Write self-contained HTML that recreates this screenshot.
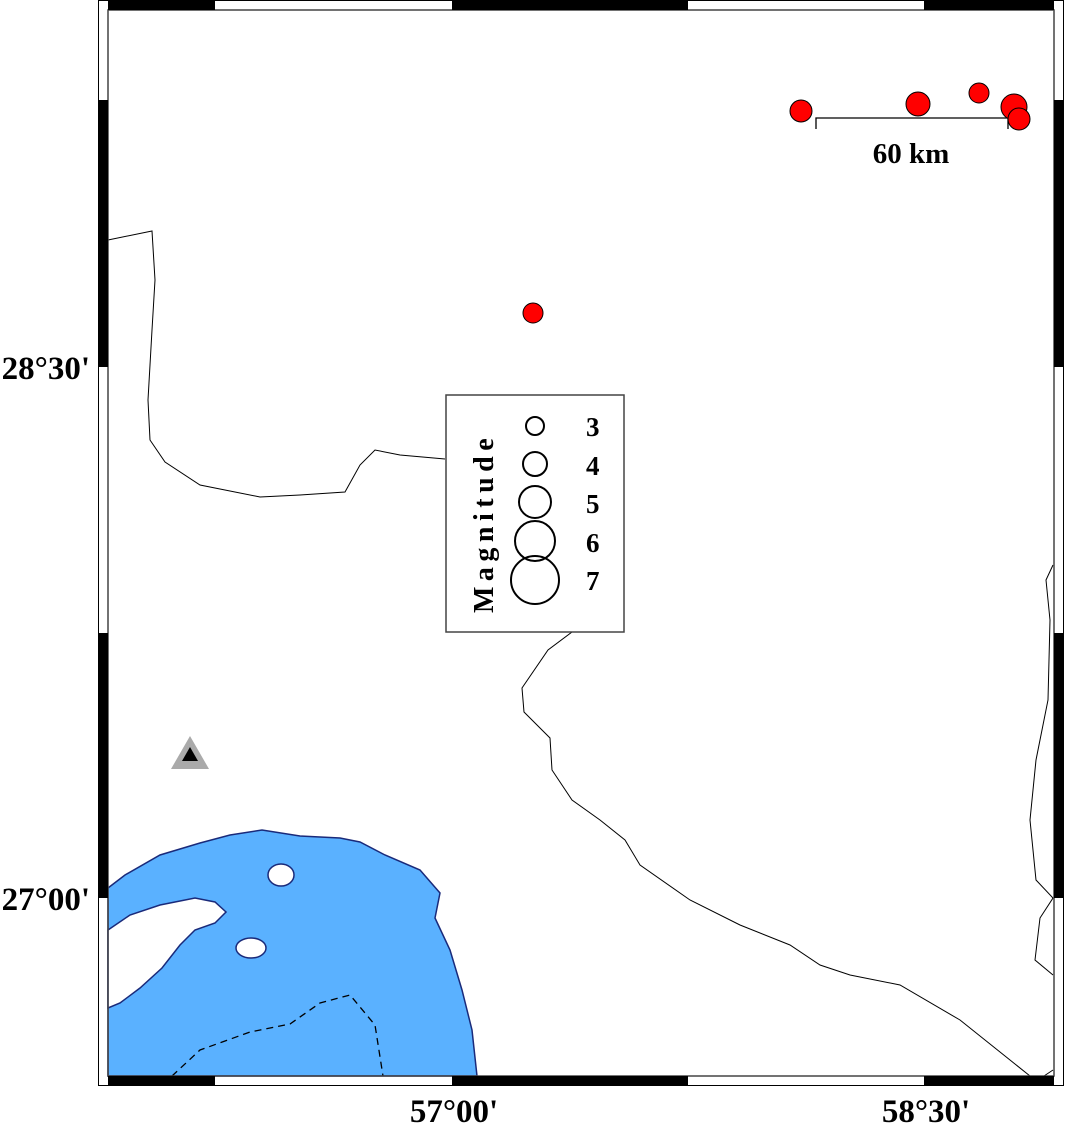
<!DOCTYPE html>
<html><head><style>html,body{margin:0;padding:0;background:#fff}svg{display:block}</style></head><body>
<svg width="1066" height="1124" viewBox="0 0 1066 1124" xmlns="http://www.w3.org/2000/svg" font-family="Liberation Serif, serif">
<rect width="1066" height="1124" fill="#fff"/>
<path d="M108,888 L125,875 L160,855 L200,843 L230,835 L262,830 L300,836 L340,838 L360,842 L385,855 L420,870 L440,893 L435,918 L450,950 L462,990 L472,1030 L477,1076 L108,1076 Z" fill="#5ab1ff" stroke="#1a2a7a" stroke-width="1.5"/>
<path d="M108,930 L130,915 L160,905 L195,898 L215,902 L226,912 L215,923 L195,930 L180,945 L162,968 L140,988 L120,1003 L108,1008 Z" fill="#fff" stroke="#1a2a7a" stroke-width="1.5"/>
<ellipse cx="281" cy="875" rx="13" ry="11" fill="#fff" stroke="#1a2a7a" stroke-width="1.5"/>
<ellipse cx="251" cy="948" rx="15" ry="10" fill="#fff" stroke="#1a2a7a" stroke-width="1.5"/>
<path d="M172,1076 L200,1050 L250,1032 L290,1024 L320,1003 L350,995 L375,1025 L383,1076" fill="none" stroke="#000" stroke-width="1.3" stroke-dasharray="7,5"/>
<g fill="none" stroke="#000" stroke-width="1">
<path d="M108,240 L152,231 L155,280 L152,330 L148,400 L150,440 L165,462 L200,485 L260,497 L300,495 L345,492 L360,465 L375,450 L400,455 L445,459"/>
<path d="M572,632 L548,650 L522,688 L524,712 L550,738 L552,770 L572,800 L600,820 L625,840 L640,865 L690,900 L740,925 L790,945 L820,965 L850,975 L900,985 L960,1020 L1010,1060 L1030,1076"/>
<path d="M1053,565 L1046,580 L1050,620 L1048,700 L1036,760 L1030,820 L1036,880 L1053,898 L1040,918 L1035,960 L1053,975"/>
<path d="M1044,1076 L1053,1070"/>
</g>
<rect x="98.5" y="0.5" width="965" height="1085" fill="none" stroke="#000" stroke-width="1"/>
<rect x="108" y="10" width="946" height="1066" fill="none" stroke="#444" stroke-width="1.5"/>
<g fill="#000">
<rect x="108" y="0" width="107" height="10"/><rect x="452" y="0" width="236" height="10"/><rect x="924" y="0" width="130" height="10"/>
<rect x="108" y="1076" width="107" height="10"/><rect x="452" y="1076" width="236" height="10"/><rect x="924" y="1076" width="130" height="10"/>
<rect x="98" y="100" width="10" height="267"/><rect x="98" y="633" width="10" height="265"/>
<rect x="1054" y="100" width="10" height="267"/><rect x="1054" y="633" width="10" height="265"/>
</g>
<g font-weight="bold" font-size="33" fill="#000">
<text x="90" y="379" text-anchor="end">28°30'</text>
<text x="90" y="910" text-anchor="end">27°00'</text>
<text x="454" y="1122" text-anchor="middle">57°00'</text>
<text x="926" y="1122" text-anchor="middle">58°30'</text>
</g>
<polygon points="190,736 209,769 171,769" fill="#aaa"/>
<polygon points="190,747 198,761 182,761" fill="#000"/>
<path d="M816,129 L816,118 L1008,118 L1008,129" fill="none" stroke="#000" stroke-width="1.3"/>
<text x="911" y="163" text-anchor="middle" font-weight="bold" font-size="29">60 km</text>
<g fill="#f00" stroke="#000" stroke-width="1">
<circle cx="801" cy="111" r="11"/><circle cx="918" cy="104" r="12"/><circle cx="979" cy="93" r="10"/>
<circle cx="1014" cy="107" r="13"/><circle cx="1019" cy="119" r="11"/><circle cx="533" cy="313" r="10"/>
</g>
<rect x="446" y="395" width="178" height="237" fill="#fff" stroke="#444" stroke-width="1.5"/>
<g fill="none" stroke="#000" stroke-width="2">
<circle cx="535" cy="426" r="9"/><circle cx="535" cy="464" r="12"/><circle cx="535" cy="502" r="16"/>
<circle cx="535" cy="541" r="20"/><circle cx="535" cy="580" r="24"/>
</g>
<g font-weight="bold" font-size="27" fill="#000">
<text x="586" y="436">3</text><text x="586" y="475">4</text><text x="586" y="513">5</text><text x="586" y="552">6</text><text x="586" y="590">7</text>
</g>
<text transform="translate(493,613) rotate(-90)" font-weight="bold" font-size="28" letter-spacing="5.5" fill="#000">Magnitude</text>
</svg>
</body></html>
